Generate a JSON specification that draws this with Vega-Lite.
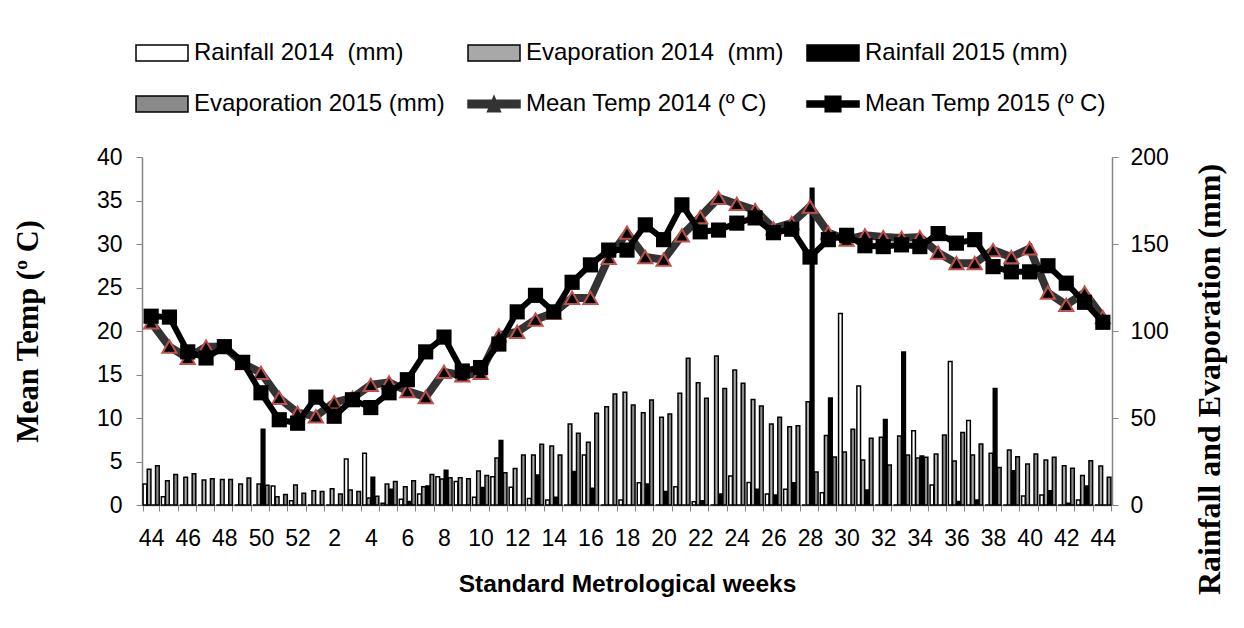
{
  "$schema": "https://vega.github.io/schema/vega-lite/v6.json",
  "width": 970,
  "height": 348,
  "autosize": {"type": "none"},
  "padding": {"left": 142, "top": 157, "right": 132, "bottom": 123},
  "background": "white",
  "config": {"view": {"stroke": null}, "font": "Liberation Sans", "axis": {"grid": false}},
  "datasets": {
    "bars": [
      {"i":0,"wk":44,"s":"R14","v":12},{"i":0,"wk":44,"s":"E14","v":20.5},{"i":0,"wk":44,"s":"R15","v":0},{"i":0,"wk":44,"s":"E15","v":22.5},
      {"i":1,"wk":45,"s":"R14","v":4.8},{"i":1,"wk":45,"s":"E14","v":14},{"i":1,"wk":45,"s":"R15","v":0},{"i":1,"wk":45,"s":"E15","v":17.6},
      {"i":2,"wk":46,"s":"R14","v":0},{"i":2,"wk":46,"s":"E14","v":15.9},{"i":2,"wk":46,"s":"R15","v":0},{"i":2,"wk":46,"s":"E15","v":18},
      {"i":3,"wk":47,"s":"R14","v":0},{"i":3,"wk":47,"s":"E14","v":14.4},{"i":3,"wk":47,"s":"R15","v":0},{"i":3,"wk":47,"s":"E15","v":15.1},
      {"i":4,"wk":48,"s":"R14","v":0},{"i":4,"wk":48,"s":"E14","v":14.6},{"i":4,"wk":48,"s":"R15","v":0},{"i":4,"wk":48,"s":"E15","v":14.6},
      {"i":5,"wk":49,"s":"R14","v":0},{"i":5,"wk":49,"s":"E14","v":12},{"i":5,"wk":49,"s":"R15","v":0},{"i":5,"wk":49,"s":"E15","v":15.5},
      {"i":6,"wk":50,"s":"R14","v":0},{"i":6,"wk":50,"s":"E14","v":12},{"i":6,"wk":50,"s":"R15","v":43.5},{"i":6,"wk":50,"s":"E15","v":11.3},
      {"i":7,"wk":51,"s":"R14","v":10.9},{"i":7,"wk":51,"s":"E14","v":4.8},{"i":7,"wk":51,"s":"R15","v":0},{"i":7,"wk":51,"s":"E15","v":6.1},
      {"i":8,"wk":52,"s":"R14","v":2.5},{"i":8,"wk":52,"s":"E14","v":11.5},{"i":8,"wk":52,"s":"R15","v":0},{"i":8,"wk":52,"s":"E15","v":6.7},
      {"i":9,"wk":1,"s":"R14","v":0},{"i":9,"wk":1,"s":"E14","v":8.2},{"i":9,"wk":1,"s":"R15","v":0},{"i":9,"wk":1,"s":"E15","v":7.7},
      {"i":10,"wk":2,"s":"R14","v":0},{"i":10,"wk":2,"s":"E14","v":9.4},{"i":10,"wk":2,"s":"R15","v":0},{"i":10,"wk":2,"s":"E15","v":6.3},
      {"i":11,"wk":3,"s":"R14","v":26.4},{"i":11,"wk":3,"s":"E14","v":8.6},{"i":11,"wk":3,"s":"R15","v":0},{"i":11,"wk":3,"s":"E15","v":7.7},
      {"i":12,"wk":4,"s":"R14","v":29.7},{"i":12,"wk":4,"s":"E14","v":4},{"i":12,"wk":4,"s":"R15","v":15.9},{"i":12,"wk":4,"s":"E15","v":5},
      {"i":13,"wk":5,"s":"R14","v":1},{"i":13,"wk":5,"s":"E14","v":12},{"i":13,"wk":5,"s":"R15","v":9},{"i":13,"wk":5,"s":"E15","v":13.5},
      {"i":14,"wk":6,"s":"R14","v":3.3},{"i":14,"wk":6,"s":"E14","v":10.5},{"i":14,"wk":6,"s":"R15","v":2},{"i":14,"wk":6,"s":"E15","v":14},
      {"i":15,"wk":7,"s":"R14","v":6.3},{"i":15,"wk":7,"s":"E14","v":10.5},{"i":15,"wk":7,"s":"R15","v":10.9},{"i":15,"wk":7,"s":"E15","v":17.6},
      {"i":16,"wk":8,"s":"R14","v":16.3},{"i":16,"wk":8,"s":"E14","v":15},{"i":16,"wk":8,"s":"R15","v":20},{"i":16,"wk":8,"s":"E15","v":15.7},
      {"i":17,"wk":9,"s":"R14","v":13.5},{"i":17,"wk":9,"s":"E14","v":15.7},{"i":17,"wk":9,"s":"R15","v":0},{"i":17,"wk":9,"s":"E15","v":15.1},
      {"i":18,"wk":10,"s":"R14","v":4.4},{"i":18,"wk":10,"s":"E14","v":19.5},{"i":18,"wk":10,"s":"R15","v":10},{"i":18,"wk":10,"s":"E15","v":16.9},
      {"i":19,"wk":11,"s":"R14","v":16.3},{"i":19,"wk":11,"s":"E14","v":27},{"i":19,"wk":11,"s":"R15","v":37},{"i":19,"wk":11,"s":"E15","v":18.6},
      {"i":20,"wk":12,"s":"R14","v":10.2},{"i":20,"wk":12,"s":"E14","v":21},{"i":20,"wk":12,"s":"R15","v":0},{"i":20,"wk":12,"s":"E15","v":28.7},
      {"i":21,"wk":13,"s":"R14","v":3.8},{"i":21,"wk":13,"s":"E14","v":28.7},{"i":21,"wk":13,"s":"R15","v":17.2},{"i":21,"wk":13,"s":"E15","v":34.9},
      {"i":22,"wk":14,"s":"R14","v":2.9},{"i":22,"wk":14,"s":"E14","v":33.9},{"i":22,"wk":14,"s":"R15","v":4.4},{"i":22,"wk":14,"s":"E15","v":28.7},
      {"i":23,"wk":15,"s":"R14","v":0},{"i":23,"wk":15,"s":"E14","v":46.6},{"i":23,"wk":15,"s":"R15","v":19.2},{"i":23,"wk":15,"s":"E15","v":41.2},
      {"i":24,"wk":16,"s":"R14","v":28.7},{"i":24,"wk":16,"s":"E14","v":36},{"i":24,"wk":16,"s":"R15","v":9.6},{"i":24,"wk":16,"s":"E15","v":52.7},
      {"i":25,"wk":17,"s":"R14","v":0},{"i":25,"wk":17,"s":"E14","v":56.5},{"i":25,"wk":17,"s":"R15","v":0},{"i":25,"wk":17,"s":"E15","v":63.8},
      {"i":26,"wk":18,"s":"R14","v":2.9},{"i":26,"wk":18,"s":"E14","v":64.8},{"i":26,"wk":18,"s":"R15","v":0},{"i":26,"wk":18,"s":"E15","v":57.5},
      {"i":27,"wk":19,"s":"R14","v":12.8},{"i":27,"wk":19,"s":"E14","v":53},{"i":27,"wk":19,"s":"R15","v":12},{"i":27,"wk":19,"s":"E15","v":60.3},
      {"i":28,"wk":20,"s":"R14","v":0},{"i":28,"wk":20,"s":"E14","v":50.4},{"i":28,"wk":20,"s":"R15","v":7.7},{"i":28,"wk":20,"s":"E15","v":52.3},
      {"i":29,"wk":21,"s":"R14","v":10.5},{"i":29,"wk":21,"s":"E14","v":64.2},{"i":29,"wk":21,"s":"R15","v":0},{"i":29,"wk":21,"s":"E15","v":84.3},
      {"i":30,"wk":22,"s":"R14","v":1.9},{"i":30,"wk":22,"s":"E14","v":70.3},{"i":30,"wk":22,"s":"R15","v":2.5},{"i":30,"wk":22,"s":"E15","v":61.3},
      {"i":31,"wk":23,"s":"R14","v":0},{"i":31,"wk":23,"s":"E14","v":85.6},{"i":31,"wk":23,"s":"R15","v":6.3},{"i":31,"wk":23,"s":"E15","v":67},
      {"i":32,"wk":24,"s":"R14","v":16.7},{"i":32,"wk":24,"s":"E14","v":77.6},{"i":32,"wk":24,"s":"R15","v":0},{"i":32,"wk":24,"s":"E15","v":69.9},
      {"i":33,"wk":25,"s":"R14","v":13},{"i":33,"wk":25,"s":"E14","v":60.7},{"i":33,"wk":25,"s":"R15","v":9},{"i":33,"wk":25,"s":"E15","v":56.9},
      {"i":34,"wk":26,"s":"R14","v":6.3},{"i":34,"wk":26,"s":"E14","v":46.6},{"i":34,"wk":26,"s":"R15","v":5.7},{"i":34,"wk":26,"s":"E15","v":50.4},
      {"i":35,"wk":27,"s":"R14","v":9},{"i":35,"wk":27,"s":"E14","v":45},{"i":35,"wk":27,"s":"R15","v":12.8},{"i":35,"wk":27,"s":"E15","v":45.6},
      {"i":36,"wk":28,"s":"R14","v":0},{"i":36,"wk":28,"s":"E14","v":59.4},{"i":36,"wk":28,"s":"R15","v":182},{"i":36,"wk":28,"s":"E15","v":19},
      {"i":37,"wk":29,"s":"R14","v":7},{"i":37,"wk":29,"s":"E14","v":40},{"i":37,"wk":29,"s":"R15","v":61.5},{"i":37,"wk":29,"s":"E15","v":27.6},
      {"i":38,"wk":30,"s":"R14","v":110},{"i":38,"wk":30,"s":"E14","v":30.5},{"i":38,"wk":30,"s":"R15","v":0},{"i":38,"wk":30,"s":"E15","v":43.5},
      {"i":39,"wk":31,"s":"R14","v":68.4},{"i":39,"wk":31,"s":"E14","v":25.9},{"i":39,"wk":31,"s":"R15","v":8.6},{"i":39,"wk":31,"s":"E15","v":38.3},
      {"i":40,"wk":32,"s":"R14","v":0},{"i":40,"wk":32,"s":"E14","v":38.9},{"i":40,"wk":32,"s":"R15","v":49.2},{"i":40,"wk":32,"s":"E15","v":23},
      {"i":41,"wk":33,"s":"R14","v":0},{"i":41,"wk":33,"s":"E14","v":39.7},{"i":41,"wk":33,"s":"R15","v":88},{"i":41,"wk":33,"s":"E15","v":28.7},
      {"i":42,"wk":34,"s":"R14","v":42.7},{"i":42,"wk":34,"s":"E14","v":27},{"i":42,"wk":34,"s":"R15","v":28.2},{"i":42,"wk":34,"s":"E15","v":27.4},
      {"i":43,"wk":35,"s":"R14","v":11.5},{"i":43,"wk":35,"s":"E14","v":29.3},{"i":43,"wk":35,"s":"R15","v":0},{"i":43,"wk":35,"s":"E15","v":40.2},
      {"i":44,"wk":36,"s":"R14","v":82.4},{"i":44,"wk":36,"s":"E14","v":25.3},{"i":44,"wk":36,"s":"R15","v":2},{"i":44,"wk":36,"s":"E15","v":41.6},
      {"i":45,"wk":37,"s":"R14","v":48.5},{"i":45,"wk":37,"s":"E14","v":28.7},{"i":45,"wk":37,"s":"R15","v":2.9},{"i":45,"wk":37,"s":"E15","v":35.1},
      {"i":46,"wk":38,"s":"R14","v":0},{"i":46,"wk":38,"s":"E14","v":29.7},{"i":46,"wk":38,"s":"R15","v":67},{"i":46,"wk":38,"s":"E15","v":21.6},
      {"i":47,"wk":39,"s":"R14","v":0},{"i":47,"wk":39,"s":"E14","v":31.6},{"i":47,"wk":39,"s":"R15","v":19.7},{"i":47,"wk":39,"s":"E15","v":27.8},
      {"i":48,"wk":40,"s":"R14","v":5.2},{"i":48,"wk":40,"s":"E14","v":23.6},{"i":48,"wk":40,"s":"R15","v":0},{"i":48,"wk":40,"s":"E15","v":29.3},
      {"i":49,"wk":41,"s":"R14","v":5.7},{"i":49,"wk":41,"s":"E14","v":25.9},{"i":49,"wk":41,"s":"R15","v":8.2},{"i":49,"wk":41,"s":"E15","v":27.4},
      {"i":50,"wk":42,"s":"R14","v":0},{"i":50,"wk":42,"s":"E14","v":22.6},{"i":50,"wk":42,"s":"R15","v":1},{"i":50,"wk":42,"s":"E15","v":21.1},
      {"i":51,"wk":43,"s":"R14","v":2.9},{"i":51,"wk":43,"s":"E14","v":16.9},{"i":51,"wk":43,"s":"R15","v":10.9},{"i":51,"wk":43,"s":"E15","v":25.5},
      {"i":52,"wk":44,"s":"R14","v":0},{"i":52,"wk":44,"s":"E14","v":22.4},{"i":52,"wk":44,"s":"R15","v":0},{"i":52,"wk":44,"s":"E15","v":15.9}
    ],
    "temps": [
      {"i":0,"wk":44,"s":"T14","t":21.0},{"i":1,"wk":45,"s":"T14","t":18.2},{"i":2,"wk":46,"s":"T14","t":16.9},{"i":3,"wk":47,"s":"T14","t":18.2},{"i":4,"wk":48,"s":"T14","t":18.2},{"i":5,"wk":49,"s":"T14","t":16.3},{"i":6,"wk":50,"s":"T14","t":15.2},{"i":7,"wk":51,"s":"T14","t":12.3},{"i":8,"wk":52,"s":"T14","t":10.6},{"i":9,"wk":1,"s":"T14","t":10.2},{"i":10,"wk":2,"s":"T14","t":11.8},{"i":11,"wk":3,"s":"T14","t":12.3},{"i":12,"wk":4,"s":"T14","t":13.8},{"i":13,"wk":5,"s":"T14","t":14.1},{"i":14,"wk":6,"s":"T14","t":13.1},{"i":15,"wk":7,"s":"T14","t":12.4},{"i":16,"wk":8,"s":"T14","t":15.3},{"i":17,"wk":9,"s":"T14","t":14.9},{"i":18,"wk":10,"s":"T14","t":15.2},{"i":19,"wk":11,"s":"T14","t":19.5},{"i":20,"wk":12,"s":"T14","t":19.9},{"i":21,"wk":13,"s":"T14","t":21.3},{"i":22,"wk":14,"s":"T14","t":22.1},{"i":23,"wk":15,"s":"T14","t":23.8},{"i":24,"wk":16,"s":"T14","t":23.8},{"i":25,"wk":17,"s":"T14","t":28.4},{"i":26,"wk":18,"s":"T14","t":31.3},{"i":27,"wk":19,"s":"T14","t":28.5},{"i":28,"wk":20,"s":"T14","t":28.2},{"i":29,"wk":21,"s":"T14","t":31.0},{"i":30,"wk":22,"s":"T14","t":33.1},{"i":31,"wk":23,"s":"T14","t":35.3},{"i":32,"wk":24,"s":"T14","t":34.6},{"i":33,"wk":25,"s":"T14","t":33.9},{"i":34,"wk":26,"s":"T14","t":31.8},{"i":35,"wk":27,"s":"T14","t":32.4},{"i":36,"wk":28,"s":"T14","t":34.3},{"i":37,"wk":29,"s":"T14","t":31.3},{"i":38,"wk":30,"s":"T14","t":30.5},{"i":39,"wk":31,"s":"T14","t":31.0},{"i":40,"wk":32,"s":"T14","t":30.8},{"i":41,"wk":33,"s":"T14","t":30.7},{"i":42,"wk":34,"s":"T14","t":30.8},{"i":43,"wk":35,"s":"T14","t":29.0},{"i":44,"wk":36,"s":"T14","t":27.8},{"i":45,"wk":37,"s":"T14","t":27.8},{"i":46,"wk":38,"s":"T14","t":29.3},{"i":47,"wk":39,"s":"T14","t":28.5},{"i":48,"wk":40,"s":"T14","t":29.5},{"i":49,"wk":41,"s":"T14","t":24.4},{"i":50,"wk":42,"s":"T14","t":23.0},{"i":51,"wk":43,"s":"T14","t":24.4},{"i":52,"wk":44,"s":"T14","t":21.6},
      {"i":0,"wk":44,"s":"T15","t":21.7},{"i":1,"wk":45,"s":"T15","t":21.6},{"i":2,"wk":46,"s":"T15","t":17.6},{"i":3,"wk":47,"s":"T15","t":16.9},{"i":4,"wk":48,"s":"T15","t":18.2},{"i":5,"wk":49,"s":"T15","t":16.4},{"i":6,"wk":50,"s":"T15","t":12.9},{"i":7,"wk":51,"s":"T15","t":9.8},{"i":8,"wk":52,"s":"T15","t":9.4},{"i":9,"wk":1,"s":"T15","t":12.4},{"i":10,"wk":2,"s":"T15","t":10.2},{"i":11,"wk":3,"s":"T15","t":12.1},{"i":12,"wk":4,"s":"T15","t":11.2},{"i":13,"wk":5,"s":"T15","t":12.9},{"i":14,"wk":6,"s":"T15","t":14.4},{"i":15,"wk":7,"s":"T15","t":17.6},{"i":16,"wk":8,"s":"T15","t":19.3},{"i":17,"wk":9,"s":"T15","t":15.4},{"i":18,"wk":10,"s":"T15","t":15.8},{"i":19,"wk":11,"s":"T15","t":18.5},{"i":20,"wk":12,"s":"T15","t":22.2},{"i":21,"wk":13,"s":"T15","t":24.1},{"i":22,"wk":14,"s":"T15","t":22.2},{"i":23,"wk":15,"s":"T15","t":25.6},{"i":24,"wk":16,"s":"T15","t":27.6},{"i":25,"wk":17,"s":"T15","t":29.3},{"i":26,"wk":18,"s":"T15","t":29.3},{"i":27,"wk":19,"s":"T15","t":32.2},{"i":28,"wk":20,"s":"T15","t":30.5},{"i":29,"wk":21,"s":"T15","t":34.5},{"i":30,"wk":22,"s":"T15","t":31.4},{"i":31,"wk":23,"s":"T15","t":31.6},{"i":32,"wk":24,"s":"T15","t":32.4},{"i":33,"wk":25,"s":"T15","t":33.0},{"i":34,"wk":26,"s":"T15","t":31.3},{"i":35,"wk":27,"s":"T15","t":31.7},{"i":36,"wk":28,"s":"T15","t":28.5},{"i":37,"wk":29,"s":"T15","t":30.5},{"i":38,"wk":30,"s":"T15","t":31.0},{"i":39,"wk":31,"s":"T15","t":29.8},{"i":40,"wk":32,"s":"T15","t":29.7},{"i":41,"wk":33,"s":"T15","t":29.9},{"i":42,"wk":34,"s":"T15","t":29.7},{"i":43,"wk":35,"s":"T15","t":31.2},{"i":44,"wk":36,"s":"T15","t":30.1},{"i":45,"wk":37,"s":"T15","t":30.5},{"i":46,"wk":38,"s":"T15","t":27.4},{"i":47,"wk":39,"s":"T15","t":26.8},{"i":48,"wk":40,"s":"T15","t":26.8},{"i":49,"wk":41,"s":"T15","t":27.5},{"i":50,"wk":42,"s":"T15","t":25.5},{"i":51,"wk":43,"s":"T15","t":23.3},{"i":52,"wk":44,"s":"T15","t":21.0}
    ]
  },
  "layer": [
    {
      "data": {"name": "bars"},
      "mark": {"type": "bar", "stroke": "black", "strokeWidth": 1.5},
      "encoding": {
        "x": {
          "field": "i", "type": "ordinal",
          "scale": {"paddingInner": 0.12, "paddingOuter": 0.06},
          "axis": {
            "title": "Standard Metrological weeks",
            "titleFont": "Liberation Sans", "titleFontWeight": "bold", "titleFontSize": 24.5, "titleColor": "black", "titlePadding": 22,
            "labelExpr": "datum.value % 2 == 0 ? (datum.value <= 8 ? '' + (datum.value + 44) : '' + (datum.value - 8)) : ''",
            "labelAngle": 0, "labelFontSize": 23, "labelColor": "black", "labelPadding": 16, "labelOverlap": false,
            "tickBand": "extent", "tickSize": 6, "tickColor": "#868686", "domainColor": "#868686", "domainWidth": 1.5
          }
        },
        "xOffset": {"field": "s", "type": "nominal", "scale": {"domain": ["R14", "E14", "R15", "E15"], "paddingInner": 0.12}},
        "y": {
          "field": "v", "type": "quantitative",
          "scale": {"domain": [0, 200]},
          "axis": {
            "orient": "right", "values": [0, 50, 100, 150, 200],
            "title": "Rainfall and Evaporation (mm)",
            "titleFont": "Liberation Serif", "titleFontWeight": "bold", "titleFontSize": 32, "titleColor": "black", "titleAngle": 270, "titlePadding": 58, "titleY": 222,
            "labelFontSize": 23, "labelColor": "black", "labelPadding": 12,
            "tickSize": 6, "tickColor": "#868686", "domainColor": "#868686", "domainWidth": 1.5
          }
        },
        "color": {
          "field": "s", "type": "nominal",
          "scale": {"domain": ["R14", "E14", "R15", "E15", "T14", "T15"], "range": ["#ffffff", "#a8a8a8", "#000000", "#8a8a8a", "#333333", "#000000"]},
          "legend": {
            "orient": "none", "legendX": -7, "legendY": -131, "direction": "horizontal", "columns": 3,
            "title": null, "labelFontSize": 24, "labelFont": "Liberation Sans", "labelColor": "black", "labelLimit": 400,
            "symbolSize": 2704, "symbolStrokeColor": "black", "symbolStrokeWidth": 1.5, "symbolOpacity": 1, "labelOffset": 5,
            "columnPadding": 20, "rowPadding": 12, "symbolLimit": 0,
            "labelExpr": "datum.value == 'R14' ? 'Rainfall 2014 \u00a0(mm)' : datum.value == 'E14' ? 'Evaporation 2014 \u00a0(mm)' : datum.value == 'R15' ? 'Rainfall 2015 (mm)' : datum.value == 'E15' ? 'Evaporation 2015 (mm)' : datum.value == 'T14' ? 'Mean Temp 2014 (º C)' : 'Mean Temp 2015 (º C)'",
            "encode": {
              "symbols": {
                "update": {
                  "shape": {"signal": "datum.value == 'T14' ? 'M-1,-0.14L1,-0.14L1,0.14L-1,0.14Z M-0.25,0.3L0,-0.3L0.25,0.3Z' : datum.value == 'T15' ? 'M-1,-0.12L1,-0.12L1,0.12L-1,0.12Z M-0.3,-0.3L0.3,-0.3L0.3,0.3L-0.3,0.3Z' : 'M-1,-0.31L1,-0.31L1,0.31L-1,0.31Z'"},
                  "fill": {"signal": "scale('color', datum.value)"},
                  "fillOpacity": {"value": 1},
                  "stroke": {"signal": "datum.value == 'T14' ? '#333333' : 'black'"},
                  "strokeOpacity": {"value": 1},
                  "strokeWidth": {"value": 1.5},
                  "opacity": {"value": 1}
                }
              }
            }
          }
        }
      }
    },
    {
      "data": {"name": "temps"},
      "layer": [
        {
          "transform": [{"filter": "datum.s == 'T14'"}],
          "mark": {"type": "line", "strokeWidth": 8, "stroke": "#333333"},
          "encoding": {
            "x": {"field": "i", "type": "ordinal"},
            "y": {"field": "t", "type": "quantitative", "scale": {"domain": [0, 40]},
              "axis": {
                "orient": "left", "values": [0, 5, 10, 15, 20, 25, 30, 35, 40],
                "title": "Mean Temp (º C)",
                "titleFont": "Liberation Serif", "titleFontWeight": "bold", "titleFontSize": 30.5, "titleColor": "black", "titlePadding": 53,
                "labelFontSize": 23, "labelColor": "black", "labelPadding": 14,
                "tickSize": 6, "tickColor": "#868686", "domainColor": "#868686", "domainWidth": 1.5
              }
            }
          }
        },
        {
          "transform": [{"filter": "datum.s == 'T14'"}],
          "mark": {"type": "point", "shape": "triangle-up", "filled": true, "fill": "#000000", "stroke": "#c0504d", "strokeWidth": 2, "size": 200, "opacity": 1},
          "encoding": {
            "x": {"field": "i", "type": "ordinal"},
            "y": {"field": "t", "type": "quantitative"}
          }
        },
        {
          "transform": [{"filter": "datum.s == 'T15'"}],
          "mark": {"type": "line", "strokeWidth": 6, "stroke": "#000000"},
          "encoding": {
            "x": {"field": "i", "type": "ordinal"},
            "y": {"field": "t", "type": "quantitative"}
          }
        },
        {
          "transform": [{"filter": "datum.s == 'T15'"}],
          "mark": {"type": "point", "shape": "square", "filled": true, "fill": "#000000", "size": 230, "opacity": 1},
          "encoding": {
            "x": {"field": "i", "type": "ordinal"},
            "y": {"field": "t", "type": "quantitative"}
          }
        }
      ]
    }
  ],
  "resolve": {"scale": {"y": "independent"}}
}
